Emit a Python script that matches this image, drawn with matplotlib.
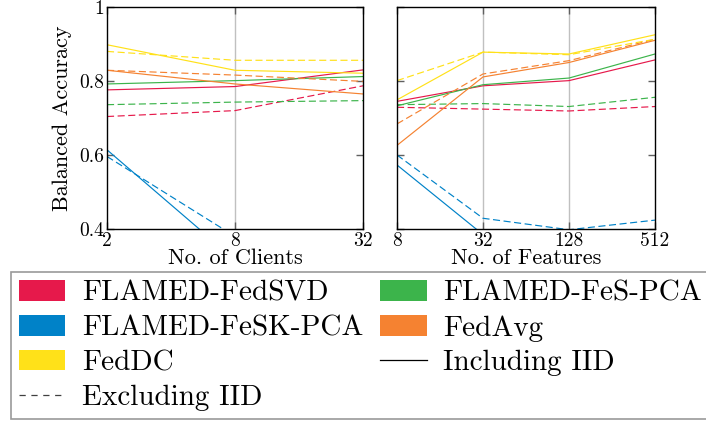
import matplotlib
matplotlib.use("Agg")
import matplotlib.pyplot as plt
from matplotlib.patches import Patch
from matplotlib.lines import Line2D

plt.rcParams['font.family'] = 'serif'
plt.rcParams['font.serif'] = ['cmr10', 'DejaVu Serif']
plt.rcParams['mathtext.fontset'] = 'cm'
plt.rcParams['axes.unicode_minus'] = False

methods = ["FLAMED-FedSVD", "FLAMED-FeSK-PCA", "FedDC", "FLAMED-FeS-PCA", "FedAvg"]
colors = ["#e6194b", "#0082c8", "#ffe119", "#3cb44b", "#f58231"]

clients = [2, 8, 32]
clients_incl = {
    "FLAMED-FedSVD":   [0.776, 0.785, 0.830],
    "FLAMED-FeSK-PCA": [0.614, 0.317, 0.300],
    "FedDC":           [0.898, 0.829, 0.821],
    "FLAMED-FeS-PCA":  [0.792, 0.801, 0.812],
    "FedAvg":          [0.829, 0.792, 0.765],
}
clients_excl = {
    "FLAMED-FedSVD":   [0.704, 0.720, 0.787],
    "FLAMED-FeSK-PCA": [0.596, 0.380, 0.330],
    "FedDC":           [0.880, 0.856, 0.856],
    "FLAMED-FeS-PCA":  [0.736, 0.743, 0.747],
    "FedAvg":          [0.829, 0.816, 0.799],
}

features = [8, 32, 128, 512]
features_incl = {
    "FLAMED-FedSVD":   [0.745, 0.787, 0.801, 0.857],
    "FLAMED-FeSK-PCA": [0.573, 0.385, 0.350, 0.360],
    "FedDC":           [0.749, 0.878, 0.873, 0.925],
    "FLAMED-FeS-PCA":  [0.733, 0.790, 0.808, 0.873],
    "FedAvg":          [0.626, 0.811, 0.850, 0.910],
}
features_excl = {
    "FLAMED-FedSVD":   [0.729, 0.724, 0.719, 0.731],
    "FLAMED-FeSK-PCA": [0.600, 0.429, 0.398, 0.424],
    "FedDC":           [0.801, 0.878, 0.871, 0.913],
    "FLAMED-FeS-PCA":  [0.736, 0.739, 0.731, 0.756],
    "FedAvg":          [0.684, 0.819, 0.855, 0.913],
}

yticks = [0.4, 0.6, 0.8, 1.0]
ytick_labels = ["0.4", "0.6", "0.8", "1"]

W, H = 706, 425
fig = plt.figure(figsize=(W / 100, H / 100), dpi=100)

def ax_rect(x0, x1, y0, y1):
    return [x0 / W, 1 - y1 / H, (x1 - x0) / W, (y1 - y0) / H]

ax1 = fig.add_axes(ax_rect(107, 363, 7, 229))
ax2 = fig.add_axes(ax_rect(397, 655, 7, 229))

draw_order = ["FLAMED-FeSK-PCA", "FLAMED-FedSVD", "FLAMED-FeS-PCA", "FedAvg", "FedDC"]

for ax, xs, inc, exc in [(ax1, clients, clients_incl, clients_excl),
                         (ax2, features, features_incl, features_excl)]:
    ax.set_xscale('log', base=2)
    for m in draw_order:
        c = colors[methods.index(m)]
        ax.plot(xs, exc[m], color=c, lw=0.85, dashes=(6, 3))
        ax.plot(xs, inc[m], color=c, lw=0.85)
    ax.set_xlim(xs[0], xs[-1])
    ax.set_ylim(0.4, 1.0)
    ax.set_xticks(xs)
    ax.set_xticklabels([str(v) for v in xs])
    ax.xaxis.set_minor_locator(matplotlib.ticker.NullLocator())
    ax.set_yticks(yticks)
    for xv in xs[1:-1]:
        ax.axvline(xv, color="#c0c0c0", lw=1.0, zorder=0)
    ax.tick_params(axis='both', which='major', direction='in', length=5, width=1,
                   color="#606060", top=True, right=True, labelsize=14, pad=2)
    for s in ax.spines.values():
        s.set_linewidth(1.0)
        s.set_color("black")

ax1.set_yticklabels(ytick_labels)
ax2.set_yticklabels([])
ax1.set_ylabel("Balanced Accuracy", fontsize=16, labelpad=5)
ax1.set_xlabel("No. of Clients", fontsize=16, labelpad=-1)
ax2.set_xlabel("No. of Features", fontsize=16, labelpad=-1)

handles = [
    Patch(facecolor=colors[0], edgecolor="none"),
    Patch(facecolor=colors[1], edgecolor="none"),
    Patch(facecolor=colors[2], edgecolor="none"),
    Line2D([0], [0], color="#404040", lw=0.9, dashes=(5, 4.5)),
    Patch(facecolor=colors[3], edgecolor="none"),
    Patch(facecolor=colors[4], edgecolor="none"),
    Line2D([0], [0], color="black", lw=0.9),
]
labels = ["FLAMED-FedSVD", "FLAMED-FeSK-PCA", "FedDC", "Excluding IID",
          "FLAMED-FeS-PCA", "FedAvg", "Including IID"]
leg = fig.legend(handles, labels, ncol=2, fontsize=21,
                 loc='upper left', bbox_to_anchor=(11 / W, 1 - 272 / H),
                 frameon=True, fancybox=False, edgecolor="#808080",
                 handlelength=1.58, handleheight=0.72, handletextpad=0.58,
                 columnspacing=0.58, labelspacing=0.28, borderpad=0.28,
                 borderaxespad=0)
leg.get_frame().set_linewidth(1.2)

fig.savefig("out.png", dpi=100)
